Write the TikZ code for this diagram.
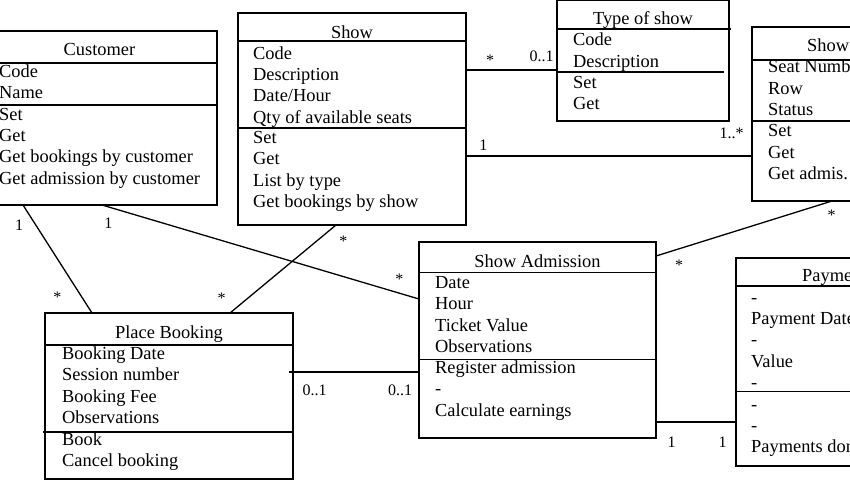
\documentclass[tikz,border=0pt]{standalone}
\usepackage{fontspec}
\setmainfont{Liberation Serif}
\usetikzlibrary{calc}
\tikzset{
  box/.style={draw, line width=1.3pt, inner sep=0pt, outer sep=0pt, anchor=north west},
  sepline/.style={line width=1.3pt},
  link/.style={line width=1.3pt},
  row/.style={inner sep=0pt, anchor=base west, font=\fontsize{18.4}{21.4}\selectfont},
  ttl/.style={inner sep=0pt, anchor=base, font=\fontsize{18.4}{21.4}\selectfont},
  mult/.style={inner sep=0pt, anchor=base, font=\fontsize{16}{16}\selectfont},
}
\newcommand\rowlist[4]{%
  \foreach \txt [count=\i] in {#4} \node[row] (#1\i) at (#2,{#3+(\i-1)*21.4}) {\txt};}
\begin{document}
\begin{tikzpicture}[x=1pt,y=-1pt]
\useasboundingbox (0,0) rectangle (850,480);
\fill[white] (0,0) rectangle (850,480);
\clip (0,0) rectangle (850,480);

% boxes
\node[box, minimum width=234pt, minimum height=174pt] (cust) at (-17,31) {};
\node[box, minimum width=228pt, minimum height=212pt] (show) at (238,13) {};
\node[box, minimum width=172pt, minimum height=120.5pt] (type) at (557,0.5) {};
\node[box, minimum width=160pt, minimum height=174pt] (seat) at (752,27) {};
\node[box, minimum width=248pt, minimum height=166pt] (pb) at (45,313) {};
\node[box, minimum width=237pt, minimum height=196pt] (sa) at (419,242) {};
\node[box, minimum width=160pt, minimum height=208pt] (pay) at (736,258) {};

% compartment lines
\draw[sepline] (-17,63) -- (217,63) (-17,105) -- (217,105);
\draw[sepline] (238,41) -- (466,41) (238,128) -- (466,128);
\draw[sepline] (557,29) -- (731,29) (557,72) -- (724,72);
\draw[sepline] (752,60) -- (912,60) (752,121) -- (912,121);
\draw[sepline] (45,345) -- (293,345) (43,432) -- (293,432);
\draw[sepline] (419,272.7) -- (656,272.7) (419,359.3) -- (656,359.3);
\draw[sepline] (736,286) -- (896,286) (736,391.5) -- (896,391.5);

% titles
\node[ttl] (custT) at (99.5,55) {Customer};
\node[ttl] (showT) at (352,38) {Show};
\node[ttl] (typeT) at (643,24) {Type of show};
\node[row] (seatT) at (807,51.7) {Show};
\node[ttl] (pbT) at (169,338.3) {Place Booking};
\node[ttl] (saT) at (537.5,267.3) {Show Admission};
\node[row] (payT) at (802,281.7) {Payment};

% rows
\rowlist{custA}{-1}{77}{Code,Name}
\rowlist{custM}{-1}{120}{Set,Get,Get bookings by customer,Get admission by customer}
\rowlist{showA}{253}{59}{Code,Description,Date/Hour,Qty of available seats}
\rowlist{showM}{253}{143.5}{Set,Get,List by type,Get bookings by show}
\rowlist{typeA}{573}{45.7}{Code,Description}
\rowlist{typeM}{573}{88.3}{Set,Get}
\rowlist{seatA}{768}{72.7}{Seat Number,Row,Status}
\rowlist{seatM}{768}{136.7}{Set,Get,Get admis.}
\rowlist{pbA}{62}{359.3}{Booking Date,Session number,Booking Fee,Observations}
\rowlist{pbM}{62}{445}{Book,Cancel booking}
\rowlist{saA}{435}{288.3}{Date,Hour,Ticket Value,Observations}
\rowlist{saM}{435}{373.3}{Register admission,-,Calculate earnings}
\rowlist{payA}{751}{303}{-,Payment Date,-,Value,-}
\rowlist{payM}{751}{410}{-,-,Payments done}

% connectors
\draw[link] ($(show.north east)+(0,57)$) -- ($(type.north west)+(0,69.5)$);
\draw[link] ($(show.north east)+(0,143)$) -- ($(seat.north west)+(0,129)$);
\draw[link] ($(cust.south west)+(40,0)$) -- ($(pb.north west)+(47,0)$);
\draw[link] ($(cust.south west)+(119,0)$) -- ($(sa.north west)+(0,57)$);
\draw[link] ($(show.south west)+(98,0)$) -- ($(pb.north west)+(185,0)$);
\draw[link] ($(pb.north east)+(-4,59)$) -- ($(sa.north west)+(0,130)$);
\draw[link] ($(sa.north east)+(0,14)$) -- ($(seat.south west)+(80,0)$);
\draw[link] ($(sa.north east)+(0,180)$) -- ($(pay.north west)+(0,164)$);

% multiplicities
\node[mult] (m1) at (490,65) {*};
\node[mult] (m2) at (541.7,61.7) {0..1};
\node[mult] (m3) at (483.3,150) {1};
\node[mult] (m4) at (731.7,138.3) {1..*};
\node[mult] (m5) at (19,230) {1};
\node[mult] (m6) at (108.3,228.3) {1};
\node[mult] (m7) at (57.3,302) {*};
\node[mult] (m8) at (221.7,303.7) {*};
\node[mult] (m9) at (343.3,246.3) {*};
\node[mult] (m10) at (399.3,284) {*};
\node[mult] (m11) at (314.7,395) {0..1};
\node[mult] (m12) at (400,395) {0..1};
\node[mult] (m13) at (679,270.7) {*};
\node[mult] (m14) at (831.7,220) {*};
\node[mult] (m15) at (671.7,447.3) {1};
\node[mult] (m16) at (722.7,447) {1};
\end{tikzpicture}
\end{document}
